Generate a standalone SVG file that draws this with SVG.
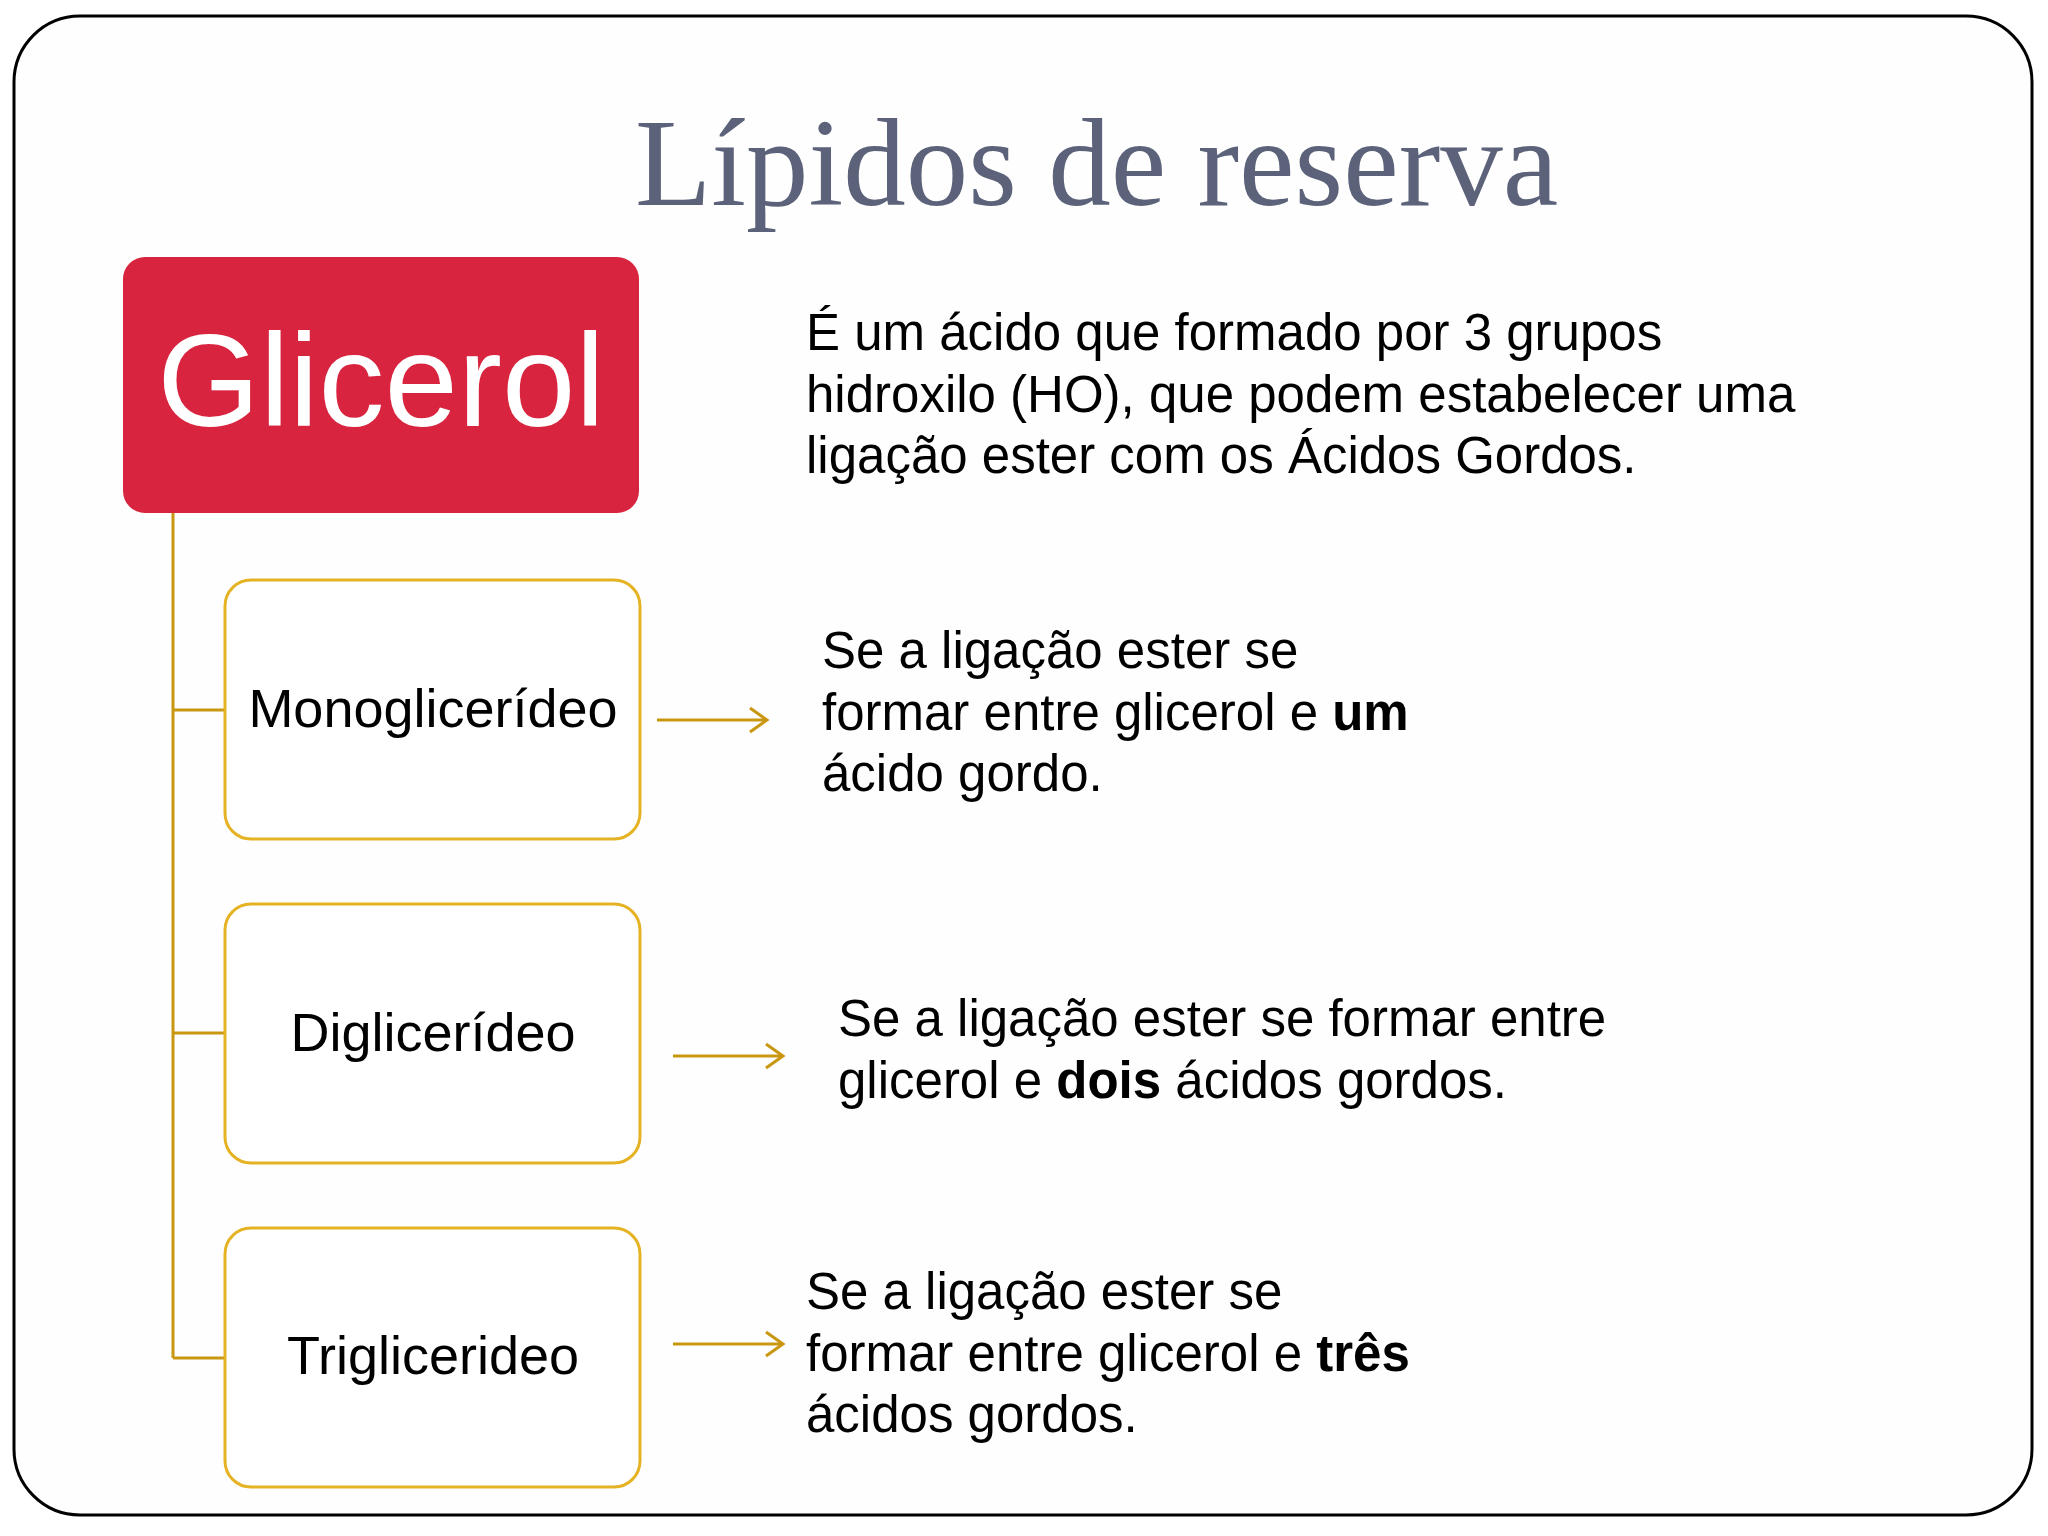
<svg xmlns="http://www.w3.org/2000/svg" width="2048" height="1536" viewBox="0 0 2048 1536">
<defs>
<style>
.body{font-family:"Liberation Sans",Arial,sans-serif;font-size:51px;fill:#000}
.lbl{font-family:"Liberation Sans",Arial,sans-serif;font-size:54px;fill:#000;text-anchor:middle}
.child{fill:#ffffff;stroke:#E5B223;stroke-width:3}
.conn{fill:none;stroke:#C8960F;stroke-width:3}
.arr{fill:none;stroke:#C8960F;stroke-width:3;marker-end:url(#ah)}
.b{font-weight:bold}
</style>
<marker id="ah" markerWidth="24" markerHeight="32" refX="18" refY="13" orient="auto" markerUnits="userSpaceOnUse">
<path d="M1,1 L18,13 L1,25" fill="none" stroke="#C8960F" stroke-width="3"/>
</marker>
</defs>
<rect width="2048" height="1536" fill="#ffffff"/>
<rect id="frame" x="14" y="16" width="2018" height="1499" rx="66" ry="66" fill="#fefefe" stroke="#000" stroke-width="3"/>
<text id="title" x="635" y="205" font-family="'Liberation Serif','Times New Roman',serif" font-size="125" fill="#5c6279">Lípidos de reserva</text>

<g id="connectors">
<path class="conn" d="M173,513 V1358"/>
<path class="conn" d="M173,710 H225"/>
<path class="conn" d="M173,1033 H225"/>
<path class="conn" d="M173,1358 H225"/>
<path class="arr" d="M657,720 H767"/>
<path class="arr" d="M673,1056 H783"/>
<path class="arr" d="M673,1344 H783"/>
</g>

<g id="glicerol">
<rect x="123" y="257" width="516" height="256" rx="22" ry="22" fill="#D8243E"/>
<text x="381" y="426" font-family="'Liberation Sans',Arial,sans-serif" font-size="132" fill="#ffffff" text-anchor="middle">Glicerol</text>
</g>

<g id="mono">
<rect class="child" x="225" y="580" width="415" height="259" rx="26" ry="26"/>
<text class="lbl" x="433" y="727">Monoglicerídeo</text>
</g>
<g id="di">
<rect class="child" x="225" y="904" width="415" height="259" rx="26" ry="26"/>
<text class="lbl" x="433" y="1051">Diglicerídeo</text>
</g>
<g id="tri">
<rect class="child" x="225" y="1228" width="415" height="259" rx="26" ry="26"/>
<text class="lbl" x="433" y="1374">Triglicerideo</text>
</g>

<g id="desc-glicerol">
<text class="body" x="806" y="350">É um ácido que formado por 3 grupos</text>
<text class="body" x="806" y="412">hidroxilo (HO), que podem estabelecer uma</text>
<text class="body" x="806" y="473">ligação ester com os Ácidos Gordos.</text>
</g>
<g id="desc-mono">
<text class="body" x="822" y="668">Se a ligação ester se</text>
<text class="body" x="822" y="730">formar entre glicerol e <tspan class="b">um</tspan></text>
<text class="body" x="822" y="791">ácido gordo.</text>
</g>
<g id="desc-di">
<text class="body" x="838" y="1036">Se a ligação ester se formar entre</text>
<text class="body" x="838" y="1098">glicerol e <tspan class="b">dois</tspan> ácidos gordos.</text>
</g>
<g id="desc-tri">
<text class="body" x="806" y="1309">Se a ligação ester se</text>
<text class="body" x="806" y="1371">formar entre glicerol e <tspan class="b">três</tspan></text>
<text class="body" x="806" y="1432">ácidos gordos.</text>
</g>
</svg>
